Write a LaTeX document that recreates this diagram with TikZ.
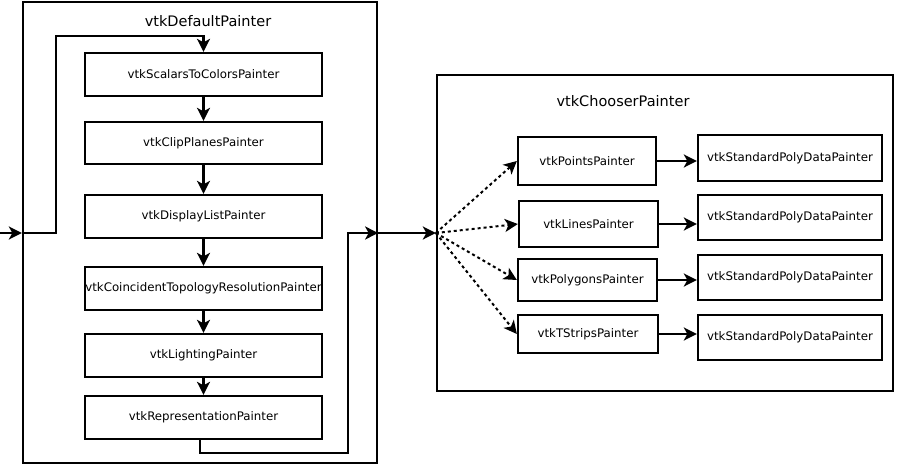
\documentclass[tikz,border=0pt]{standalone}
\usepackage{fontspec}
\setmainfont{DejaVu Sans}
\usetikzlibrary{arrows.meta}
\begin{document}
\begin{tikzpicture}[x=1pt,y=-1pt,
  box/.style={draw,line width=2.3pt,inner sep=0pt,font=\fontsize{11.8}{13}\selectfont},
  frame/.style={draw,line width=2.3pt,inner sep=0pt},
  title/.style={font=\fontsize{14.5}{16}\selectfont,inner sep=0pt},
  arr/.style={line width=2.3pt,-{Stealth[length=13pt,width=13pt,inset=3.5pt]}},
  dasharr/.style={line width=2pt,dash pattern=on 3pt off 3pt,-{Stealth[length=13pt,width=13pt,inset=3.5pt]}},
  plain/.style={line width=2.3pt}]
\useasboundingbox (0,0) rectangle (898,466);
% outer frames
\node[frame,minimum width=354pt,minimum height=461pt] (def) at (200,232.5) {};
\node[title] (deft) at (208,21) {vtkDefaultPainter};
\node[frame,minimum width=456pt,minimum height=316pt] (cho) at (665,233) {};
\node[title] (chot) at (623,101) {vtkChooserPainter};
% chain
\node[box,minimum width=237pt,minimum height=43pt] (s1) at (203.5,74.5) {vtkScalarsToColorsPainter};
\node[box,minimum width=237pt,minimum height=42pt] (s2) at (203.5,143) {vtkClipPlanesPainter};
\node[box,minimum width=237pt,minimum height=43pt] (s3) at (203.5,216.5) {vtkDisplayListPainter};
\node[box,minimum width=237pt,minimum height=43pt] (s4) at (203.5,288.5) {vtkCoincidentTopologyResolutionPainter};
\node[box,minimum width=237pt,minimum height=43pt] (s5) at (203.5,355.5) {vtkLightingPainter};
\node[box,minimum width=237pt,minimum height=43pt] (s6) at (203.5,417.5) {vtkRepresentationPainter};
\draw[arr] (s1) -- (s2);
\draw[arr] (s2) -- (s3);
\draw[arr] (s3) -- (s4);
\draw[arr] (s4) -- (s5);
\draw[arr] (s5) -- (s6);
% input
\coordinate (in) at (0,233);
\draw[arr] (in) -- (def.west |- in);
\draw[arr] (def.west |- in) -- (56,233) -- (56,36) -- (s1.north |- 0,36) -- (s1.north);
% output
\draw[arr] (s6.south -| 200,0) -- (200,453) -- (348,453) -- (348,233) -- (def.east |- 0,233);
\draw[arr] (def.east |- 0,233) -- (cho.west);
% painters
\node[box,minimum width=138pt,minimum height=48pt] (p1) at (587,161) {vtkPointsPainter};
\node[box,minimum width=139pt,minimum height=46pt] (p2) at (588.5,224) {vtkLinesPainter};
\node[box,minimum width=139pt,minimum height=42pt] (p3) at (587.5,280) {vtkPolygonsPainter};
\node[box,minimum width=140pt,minimum height=38pt] (p4) at (588,334) {vtkTStripsPainter};
\node[box,minimum width=184pt,minimum height=46pt] (q1) at (790,158) {vtkStandardPolyDataPainter};
\node[box,minimum width=184pt,minimum height=45pt] (q2) at (790,217.5) {vtkStandardPolyDataPainter};
\node[box,minimum width=184pt,minimum height=45pt] (q3) at (790,277.5) {vtkStandardPolyDataPainter};
\node[box,minimum width=184pt,minimum height=45pt] (q4) at (790,337.5) {vtkStandardPolyDataPainter};
\draw[dasharr] (cho.west) -- (p1.west);
\draw[dasharr] (cho.west) -- (p2.west);
\draw[dasharr] (cho.west) -- (p3.west);
\draw[dasharr] (cho.west) -- (p4.west);
\draw[arr] (p1.east) -- (q1.west |- p1.east);
\draw[arr] (p2.east) -- (q2.west |- p2.east);
\draw[arr] (p3.east) -- (q3.west |- p3.east);
\draw[arr] (p4.east) -- (q4.west |- p4.east);
\end{tikzpicture}
\end{document}
